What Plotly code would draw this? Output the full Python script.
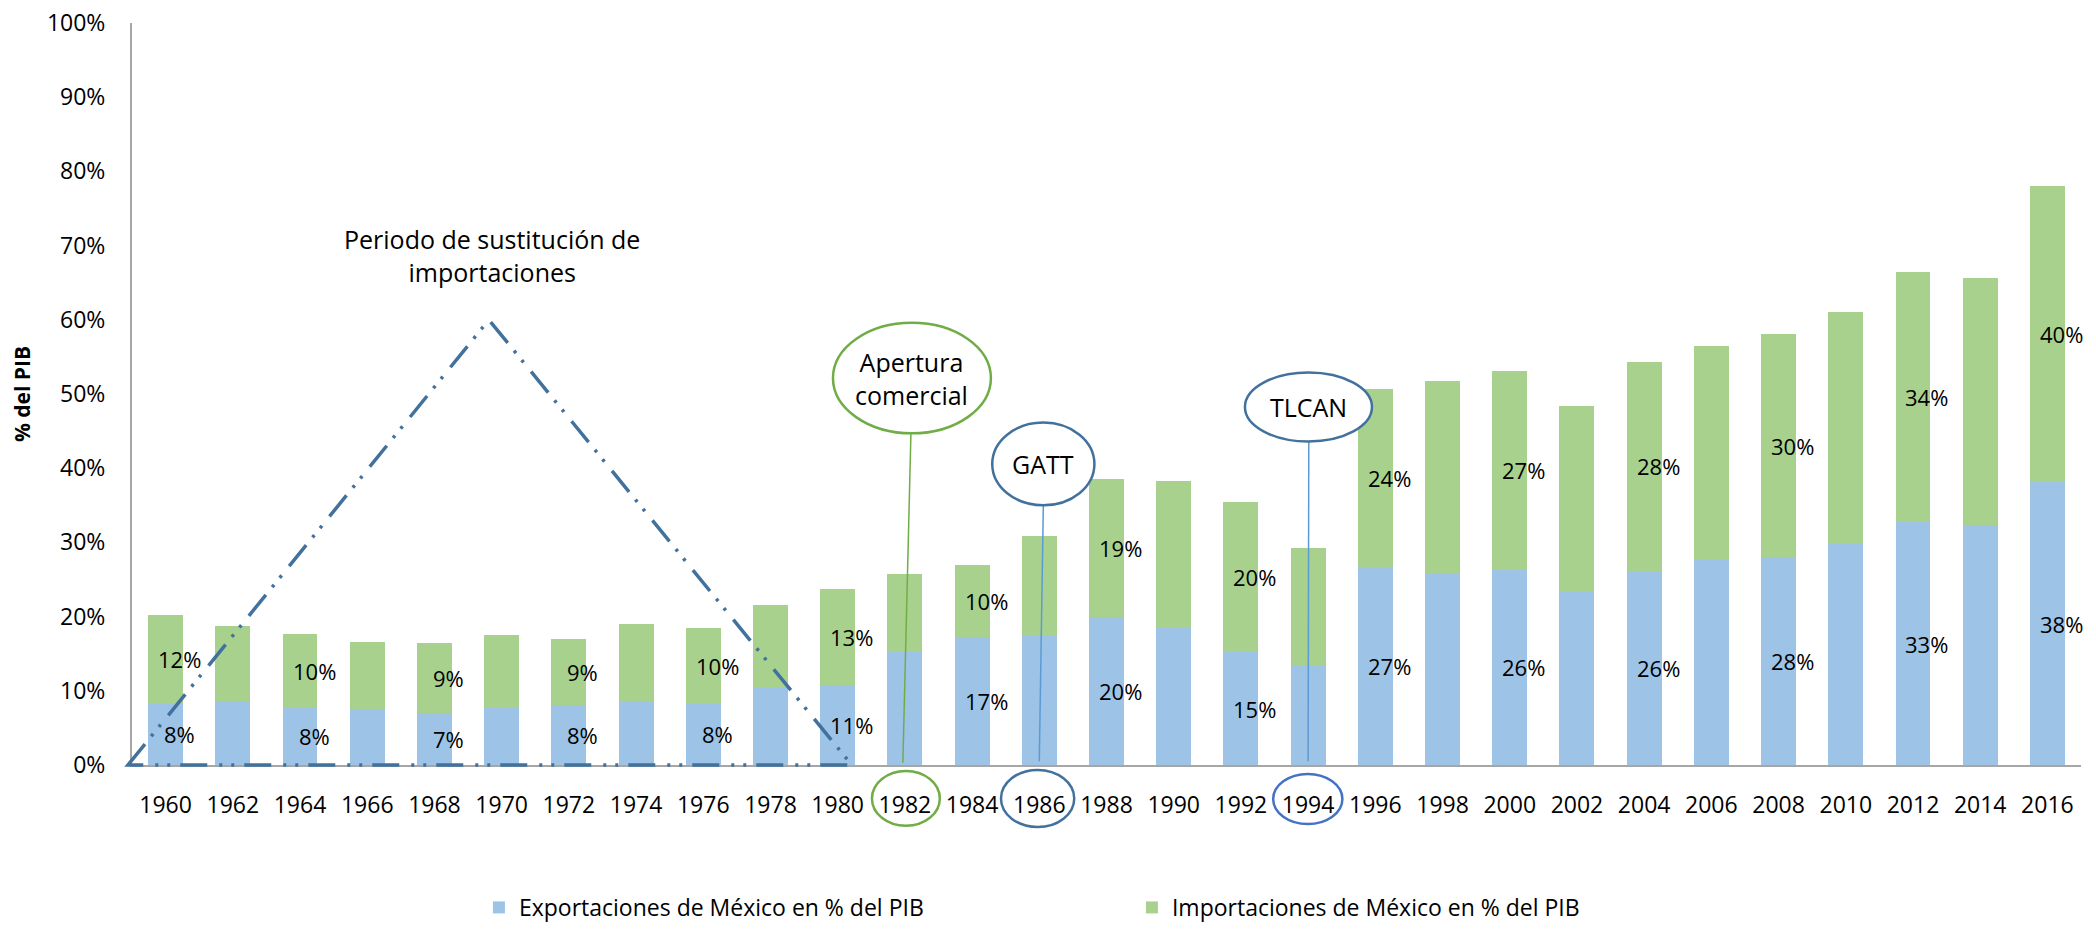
import plotly.graph_objects as go

years = [str(y) for y in range(1960, 2017, 2)]
exportaciones = [8.4, 8.6, 7.7, 7.5, 7.0, 7.8, 8.1, 8.5, 8.4, 10.5, 10.8, 15.4, 17.3, 17.4, 19.9,
                 18.6, 15.2, 13.3, 26.7, 25.7, 26.3, 23.5, 26.2, 27.7, 28.0, 29.9, 32.7, 32.3, 38.1]
importaciones = [11.8, 10.1, 9.9, 9.1, 9.4, 9.7, 8.9, 10.5, 10.0, 11.0, 12.9, 10.3, 9.6, 13.4, 18.6,
                 19.7, 20.3, 16.0, 24.0, 26.1, 26.8, 24.9, 28.1, 28.8, 30.1, 31.1, 33.7, 33.4, 40.0]

AZUL = "#9DC3E6"
VERDE = "#A9D18E"
FONT = "Open Sans"
n = len(years)


def px(i):
    # indice de categoria -> coordenada paper
    return (i + 0.5) / n


def py(v):
    return v / 100.0


fig = go.Figure()
fig.add_trace(go.Bar(x=years, y=exportaciones, name="Exportaciones de México en % del PIB",
                     marker=dict(color=AZUL, line=dict(width=0))))
fig.add_trace(go.Bar(x=years, y=importaciones, name="Importaciones de México en % del PIB",
                     marker=dict(color=VERDE, line=dict(width=0))))

# etiquetas cada 4 años
annotations = []
for i in range(0, n, 2):
    e, m = exportaciones[i], importaciones[i]
    for y, v in ((e / 2, e), (e + m / 2, m)):
        annotations.append(dict(xref="paper", x=px(i), y=y, text=f"{round(v)}%", showarrow=False,
                                xanchor="center", yanchor="middle", xshift=14,
                                font=dict(family=FONT, size=22, color="black")))

nota = dict(family=FONT, size=25, color="black")


def texto(x, y, t):
    return dict(xref="paper", yref="paper", x=px(x), y=py(y), text=t, showarrow=False,
                xanchor="center", yanchor="middle", font=nota)


annotations += [
    texto(4.86, 68.6, "Periodo de sustitución de<br>importaciones"),
    texto(11.1, 52.1, "Apertura<br>comercial"),
    texto(13.06, 40.6, "GATT"),
    texto(17.0, 48.2, "TLCAN"),
]


def elipse(x0, x1, y0, y1, color, fill="white"):
    return dict(type="circle", xref="paper", yref="paper", x0=px(x0), x1=px(x1), y0=py(y0), y1=py(y1),
                line=dict(color=color, width=2.5), fillcolor=fill, layer="above")


def linea(x0, y0, x1, y1, color):
    return dict(type="line", xref="paper", yref="paper", x0=px(x0), y0=py(y0), x1=px(x1), y1=py(y1),
                line=dict(color=color, width=1.5), layer="above")


shapes = [
    dict(type="path", xref="paper", yref="paper",
         path=f"M {px(-0.56)},{py(0)} L {px(4.81)},{py(60)} L {px(10.21)},{py(0)} Z",
         line=dict(color="#41719C", width=3.5, dash="27px,10px,3px,9px,3px,12px"), layer="above"),
    linea(11.09, 44.7, 10.97, 0.3, "#70AD47"),
    linea(13.06, 35.0, 13.0, 0.5, "#5B9BD5"),
    linea(17.01, 43.6, 17.0, 0.5, "#5B9BD5"),
    elipse(9.93, 12.28, 44.7, 59.6, "#70AD47"),
    elipse(12.30, 13.82, 35.0, 46.15, "#41719C"),
    elipse(16.06, 17.95, 43.6, 52.9, "#41719C"),
    elipse(10.51, 11.52, -0.8, -8.2, "#70AD47", "rgba(0,0,0,0)"),
    elipse(12.43, 13.52, -0.66, -8.36, "#41719C", "rgba(0,0,0,0)"),
    elipse(16.48, 17.51, -1.2, -7.96, "#4472C4", "rgba(0,0,0,0)"),
]

fig.update_layout(
    barmode="stack",
    bargap=0.48,
    width=2096,
    height=933,
    margin=dict(l=124, r=23, t=15, b=167),
    paper_bgcolor="white",
    plot_bgcolor="white",
    font=dict(family=FONT, size=23, color="black"),
    showlegend=True,
    legend=dict(orientation="h", x=0.178, xanchor="left", y=-0.192, yanchor="middle",
                traceorder="normal", entrywidth=608, font=dict(family=FONT, size=23, color="black")),
    annotations=annotations,
    shapes=shapes,
    xaxis=dict(type="category", range=[-0.5, n - 0.5], showline=True, linecolor="#A6A6A6", linewidth=2,
               showgrid=False, ticks="outside", ticklen=18, tickcolor="rgba(0,0,0,0)", automargin=False,
               tickfont=dict(family=FONT, size=23, color="black")),
    yaxis=dict(range=[0, 100], dtick=10, ticksuffix="%", showline=True, linecolor="#A6A6A6", linewidth=2,
               showgrid=False, zeroline=False, ticks="outside", ticklen=20, tickcolor="rgba(0,0,0,0)",
               automargin=False, ticklabeloverflow="allow",
               tickfont=dict(family=FONT, size=23, color="black"),
               title=dict(text="% del PIB", standoff=20,
                          font=dict(family=FONT, size=21, color="black", weight="bold"))),
)

fig.write_html("out.html")
